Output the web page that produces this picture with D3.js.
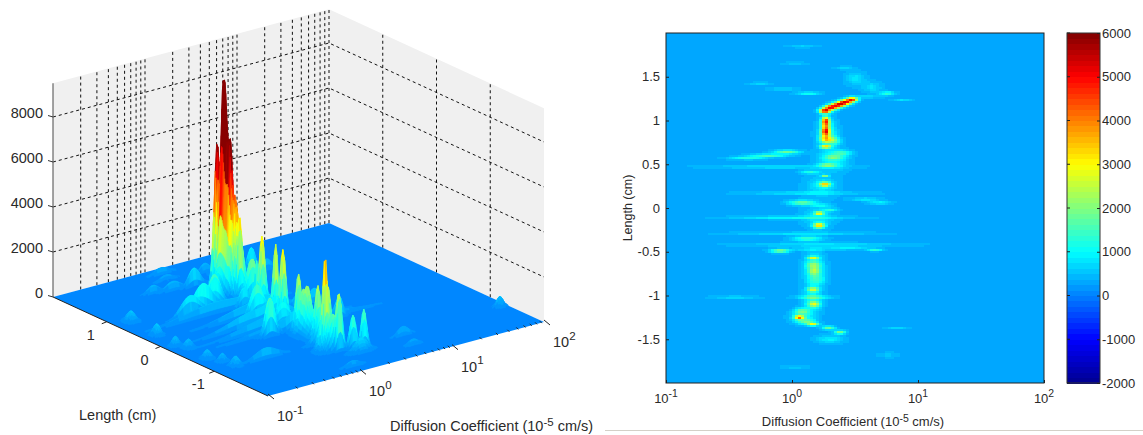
<!DOCTYPE html>
<html>
<head>
<meta charset="utf-8">
<title>Diffusion map</title>
<script src="https://cdn.jsdelivr.net/npm/d3@7"></script>
<style>
  html, body { margin: 0; padding: 0; background: #fff; }
  svg { display: block; }
  text { font-family: "Liberation Sans", Arial, sans-serif; fill: #2a2a2a; }
</style>
</head>
<body>
<div id="container"></div>
<script>
/* DATA */
const lengthTicks = [-1.5, -1, -0.5, 0, 0.5, 1, 1.5];
const wallLengthTicks = [-1, 0, 1];
const diffTicks = [0.1, 1, 10, 100];
const diffExponents = ["-1", "0", "1", "2"];
const heightTicks = [0, 2000, 4000, 6000, 8000];
const colorTicks = [-2000, -1000, 0, 1000, 2000, 3000, 4000, 5000, 6000];
const wallMinors = [0.2, 0.3, 0.4, 0.5, 0.6, 0.7, 0.8, 0.9, 1,
  2, 3, 4, 5, 6, 7, 8, 9, 10, 20, 30, 40, 50, 60, 70, 80, 90, 100];

// background level of each panel
const heatBase = 330;
const floorBase = 100;

// peaks of the distribution: length (cm), diffusion coefficient, height,
// and how far each one spreads (decades of D, cm of length)
const peakLength = [1.24, 1.21, 1.18, 1.15, 1.11, 1.0, 0.95, 0.87, 0.79, 0.77, 0.70,
  0.64, 0.60, 0.57, 0.63, 0.58, 0.49, 0.47, 0.41, 0.37, 0.27, 0.17, 0.06, 0.03, 0.06, 0.10,
  -0.06, -0.02, -0.11, -0.2, -0.29, -0.35, -0.42, -0.49, -0.47, -0.46, -0.48,
  -0.57, -0.65, -0.72, -0.82, -0.93, -1.02, -1.02, -1.1, -1.18, -1.25, -1.3, -1.33, -1.37, -1.42, -1.5,
  1.85, 1.65, 1.6, 1.42, 1.31, 1.36, 1.31, 1.27, 1.23, 1.38, 1.48, -1.37, -1.68, -1.82,
  0.85, 0.55, 0.25, -0.1, -0.7, -1.05, -1.25];
const peakDiff = [3.0, 2.65, 2.35, 2.05, 1.83, 1.85, 1.85, 1.85, 1.85, 2.15, 1.85,
  0.91, 0.65, 0.45, 2.5, 2.15, 1.9, 0.8, 1.39, 1.83, 1.83, 1.3, 1.2, 1.7, 5.0, 3.8,
  1.64, 2.0, 1.0, 1.64, 1.2, 1.32, 1.8, 0.8, 1.4, 2.8, 4.56,
  1.47, 1.47, 1.5, 1.6, 1.47, 1.5, 0.35, 1.5, 1.2, 1.14, 1.3, 1.47, 1.95, 2.4, 2.0,
  1.22, 1.06, 2.6, 0.56, 1.35, 0.85, 5.67, 3.9, 7.5, 4.3, 3.2, 6.8, 5.8, 1.06,
  1.9, 2.1, 1.7, 1.6, 1.5, 1.45, 1.2];
const peakValue = [4200, 4400, 4400, 4600, 4800, 2600, 2600, 3300, 2400, 1300, 3000,
  1500, 1300, 900, 1000, 1100, 1400, 550, 900, 1900, 2800, 600, 1500, 700, 700, 600,
  3000, 900, 700, 3000, 600, 1100, 500, 1800, 600, 600, 1000,
  2000, 900, 1100, 500, 1900, 1000, 500, 2000, 1400, 3400, 1300, 2400, 1500, 1700, 600,
  300, 250, 400, 350, 900, 400, 1100, 700, 500, 450, 500, 400, 250, 250,
  1000, 700, 500, 500, 1100, 800, 800];
const peakSpreadD = [0.03, 0.035, 0.035, 0.035, 0.03, 0.022, 0.022, 0.022, 0.03, 0.035, 0.03,
  0.07, 0.1, 0.1, 0.05, 0.05, 0.05, 0.35, 0.05, 0.02, 0.03, 0.3, 0.07, 0.05, 0.06, 0.08,
  0.025, 0.04, 0.3, 0.03, 0.35, 0.08, 0.4, 0.05, 0.12, 0.12, 0.04,
  0.03, 0.04, 0.03, 0.05, 0.03, 0.09, 0.12, 0.03, 0.04, 0.025, 0.05, 0.03, 0.035, 0.03, 0.07,
  0.08, 0.07, 0.05, 0.06, 0.06, 0.08, 0.04, 0.08, 0.05, 0.05, 0.05, 0.06, 0.05, 0.07,
  0.05, 0.08, 0.08, 0.08, 0.05, 0.05, 0.06];
const peakSpreadL = [0.018, 0.02, 0.02, 0.02, 0.02, 0.03, 0.05, 0.03, 0.03, 0.03, 0.012,
  0.015, 0.012, 0.012, 0.02, 0.02, 0.015, 0.012, 0.015, 0.008, 0.02, 0.012, 0.02, 0.012, 0.012, 0.012,
  0.012, 0.012, 0.012, 0.022, 0.01, 0.02, 0.015, 0.015, 0.01, 0.012, 0.01,
  0.012, 0.025, 0.03, 0.04, 0.018, 0.012, 0.01, 0.022, 0.025, 0.015, 0.02, 0.012, 0.015, 0.015, 0.03,
  0.012, 0.012, 0.012, 0.012, 0.012, 0.012, 0.015, 0.008, 0.008, 0.04, 0.05, 0.01, 0.02, 0.015,
  0.1, 0.08, 0.08, 0.08, 0.12, 0.1, 0.04];

// features that only show on the 3D surface: the tall spike, its body,
// the low bumps on the near edge and the small bump on the far edge
const surfaceLength = [1.0, 0.95, 0.95, 0.85, 0.32, -0.08, -0.22, -0.62, -0.8, -1.0, -1.3];
const surfaceDiff = [1.85, 1.9, 1.5, 0.15, 0.14, 0.13, 0.15, 0.14, 0.16, 0.17, 85];
const surfaceValue = [3400, 1800, 500, 450, 500, 420, 380, 380, 350, 420, 450];
const surfaceSpreadD = [0.022, 0.05, 0.05, 0.035, 0.03, 0.03, 0.03, 0.03, 0.03, 0.03, 0.03];
const surfaceSpreadL = [0.06, 0.13, 0.06, 0.05, 0.04, 0.03, 0.04, 0.04, 0.03, 0.04, 0.03];

/* CONSTANTS */
const width = 1143,
  height = 435;

// corners of the 3D box on screen
const front = [268, 396],
  toRight = [276, -74],
  toLeft = [-215, -99];

// heatmap box
const map = { left: 666, right: 1044, top: 33, bottom: 383 };
const bar = { left: 1067, right: 1100, top: 33, bottom: 383 };

/* COLORS: 64 level jet */
const jet = d3.scaleLinear()
  .domain([0, 0.125, 0.375, 0.625, 0.875, 1])
  .range(["#00008f", "#0000ff", "#00ffff", "#ffff00", "#ff0000", "#800000"]);
const jetLevels = d3.range(64).map(i => jet((i + 0.5) / 64));
const colorScale = d3.scaleQuantize().domain([-2000, 6000]).range(jetLevels);

/* SCALES */
const xMap = d3.scaleLog().domain([0.1, 100]).range([map.left, map.right]);
const yMap = d3.scaleLinear().domain([-2, 2]).range([map.bottom, map.top]);
const yBar = d3.scaleLinear().domain([-2000, 6000]).range([bar.bottom, bar.top]);

const uScale = d3.scaleLog().domain([0.1, 100]).range([0, 1]);
const vScale = d3.scaleLinear().domain([-2, 2]).range([0, 1]);
const zScale = d3.scaleLinear().domain([0, 9500]).range([0, 213.75]);

function project(d, l, z) {
  const u = uScale(d), v = vScale(l);
  return [
    front[0] + u * toRight[0] + v * toLeft[0],
    front[1] + u * toRight[1] + v * toLeft[1] - zScale(z)
  ];
}

// height at a point, adding up the read peaks
function addPeaks(d, l, ls, ds, vs, sd, sl) {
  const logD = Math.log10(d);
  let total = 0;
  for (let i = 0; i < vs.length; i++) {
    const a = (logD - Math.log10(ds[i])) / sd[i],
      b = (l - ls[i]) / sl[i];
    const r = a * a + b * b;
    if (r < 16) total += vs[i] * Math.exp(-r / 2);
  }
  return total;
}

const field = (d, l) => addPeaks(d, l, peakLength, peakDiff, peakValue, peakSpreadD, peakSpreadL);
const surfaceField = (d, l) => field(d, l) +
  addPeaks(d, l, surfaceLength, surfaceDiff, surfaceValue, surfaceSpreadD, surfaceSpreadL);

const svg = d3.select("#container")
  .append("svg")
  .attr("width", width)
  .attr("height", height);

const line = d3.line();

function addPowerLabel(g, x, y, anchor, size, exponent) {
  const t = g.append("text")
    .attr("x", x)
    .attr("y", y)
    .attr("text-anchor", anchor)
    .style("font-size", size + "px");
  t.append("tspan").text("10");
  t.append("tspan")
    .attr("dy", -size * 0.5)
    .style("font-size", (size * 0.8) + "px")
    .text(exponent);
}

/* 3D PANEL */
const left3d = svg.append("g").attr("class", "surface-panel");

// walls
left3d.append("path")
  .attr("d", line([project(0.1, 2, 0), project(100, 2, 0), project(100, 2, 9500), project(0.1, 2, 9500)]) + "Z")
  .attr("fill", "#f0f0f0");
left3d.append("path")
  .attr("d", line([project(100, 2, 0), project(100, -2, 0), project(100, -2, 9500), project(100, 2, 9500)]) + "Z")
  .attr("fill", "#f0f0f0");

// wall grid
const gridStyle = sel => sel
  .attr("fill", "none")
  .attr("stroke", "#111")
  .attr("stroke-width", 1)
  .attr("stroke-dasharray", "3,3");

left3d.selectAll("path.grid-diff")
  .data(wallMinors)
  .join("path")
  .attr("class", "grid-diff")
  .attr("d", d => line([project(d, 2, 0), project(d, 2, 9500)]))
  .call(gridStyle);

left3d.selectAll("path.grid-length")
  .data(wallLengthTicks)
  .join("path")
  .attr("class", "grid-length")
  .attr("d", d => line([project(100, d, 0), project(100, d, 9500)]))
  .call(gridStyle);

left3d.selectAll("path.grid-height")
  .data(heightTicks.slice(1))
  .join("path")
  .attr("class", "grid-height")
  .attr("d", d => line([project(0.1, 2, d), project(100, 2, d), project(100, -2, d)]))
  .call(gridStyle);

// floor
left3d.append("path")
  .attr("d", line([project(0.1, -2, 0), project(100, -2, 0), project(100, 2, 0), project(0.1, 2, 0)]) + "Z")
  .attr("fill", colorScale(floorBase));

// surface, painted from the far corner to the near one
const surfaceDiffs = d3.range(0, 201).map(i => Math.pow(10, -1 + i * 0.015));
const surfaceLengths = d3.range(0, 334).map(i => 2 - i * 0.012);
const surfaceHeights = surfaceLengths.map(l => surfaceDiffs.map(d => surfaceField(d, l)));

const surfaceG = left3d.append("g").attr("class", "surface");
for (let j = 0; j < surfaceLengths.length - 1; j++) {
  for (let i = surfaceDiffs.length - 2; i >= 0; i--) {
    const z00 = surfaceHeights[j][i], z10 = surfaceHeights[j][i + 1],
      z01 = surfaceHeights[j + 1][i], z11 = surfaceHeights[j + 1][i + 1];
    const top = Math.max(z00, z10, z01, z11);
    if (top < 40) continue;
    const c = colorScale(floorBase + (z00 + z10 + z01 + z11) / 4);
    surfaceG.append("path")
      .attr("d", line([
        project(surfaceDiffs[i], surfaceLengths[j], z00),
        project(surfaceDiffs[i + 1], surfaceLengths[j], z10),
        project(surfaceDiffs[i + 1], surfaceLengths[j + 1], z11),
        project(surfaceDiffs[i], surfaceLengths[j + 1], z01)
      ]) + "Z")
      .attr("fill", c)
      .attr("stroke", c)
      .attr("stroke-width", 0.5);
  }
}

// box edges and ticks
left3d.append("path")
  .attr("d", line([project(0.1, 2, 9500), project(0.1, 2, 0)]))
  .attr("stroke", "#666")
  .attr("stroke-width", 1.2)
  .attr("fill", "none");
left3d.append("path")
  .attr("d", line([project(0.1, 2, 0), project(0.1, -2, 0)]))
  .attr("stroke", "#222")
  .attr("fill", "none");

// height ticks and labels
const heightAxis = left3d.append("g").attr("class", "z-axis");
heightTicks.forEach(t => {
  const p = project(0.1, 2, t);
  heightAxis.append("path")
    .attr("d", line([[p[0] - 5, p[1] - 1.5], p]))
    .attr("stroke", "#333")
    .attr("fill", "none");
  heightAxis.append("text")
    .attr("x", p[0] - 10)
    .attr("y", p[1] + 1)
    .attr("text-anchor", "end")
    .style("font-size", "14.5px")
    .text(t);
});

// length ticks and labels
const lengthAxis = left3d.append("g").attr("class", "y-axis");
wallLengthTicks.forEach(t => {
  const p = project(0.1, t, 0);
  lengthAxis.append("path")
    .attr("d", line([[p[0] - 5, p[1] + 2], p]))
    .attr("stroke", "#222")
    .attr("fill", "none");
  lengthAxis.append("text")
    .attr("x", p[0] - 16)
    .attr("y", p[1] + 18)
    .attr("text-anchor", "middle")
    .style("font-size", "14.5px")
    .text(t);
});

// diffusion ticks and labels
const diffAxis = left3d.append("g").attr("class", "x-axis");
xMap.copy().ticks(30).forEach(t => {
  const p = project(t, -2, 0);
  const major = diffTicks.includes(t);
  diffAxis.append("path")
    .attr("d", line([[p[0], p[1] - 2], [p[0] + (major ? 6 : 2), p[1] + (major ? 3 : 0)]]))
    .attr("stroke", "#222")
    .attr("fill", "none");
});
diffTicks.forEach((t, i) => {
  const p = project(t, -2, 0);
  addPowerLabel(diffAxis, p[0] + 9, p[1] + 25, "start", 14.5, diffExponents[i]);
});

left3d.append("text")
  .attr("x", 79)
  .attr("y", 420)
  .style("font-size", "14.5px")
  .text("Length (cm)");

const surfaceTitle = left3d.append("text")
  .attr("x", 390)
  .attr("y", 431)
  .style("font-size", "14.5px");
surfaceTitle.append("tspan").text("Diffusion Coefficient (10");
surfaceTitle.append("tspan").attr("dy", -5).style("font-size", "11.5px").text("-5");
surfaceTitle.append("tspan").attr("dy", 5).text(" cm/s)");

/* HEATMAP PANEL */
const right2d = svg.append("g").attr("class", "map-panel");

right2d.append("rect")
  .attr("x", map.left)
  .attr("y", map.top)
  .attr("width", map.right - map.left)
  .attr("height", map.bottom - map.top)
  .attr("fill", colorScale(heatBase));

const mapColEdges = d3.range(0, 127).map(i => Math.pow(10, -1 + i * 3 / 126));
const mapRowEdges = d3.range(0, 176).map(i => 2 - i * 4 / 175);
const mapCells = [];
mapRowEdges.slice(0, -1).forEach((l, r) => {
  mapColEdges.slice(0, -1).forEach((d, c) => {
    const midL = (l + mapRowEdges[r + 1]) / 2,
      midD = Math.sqrt(d * mapColEdges[c + 1]);
    const color = colorScale(heatBase + field(midD, midL));
    if (color !== colorScale(heatBase)) {
      mapCells.push({ d0: d, d1: mapColEdges[c + 1], l0: l, l1: mapRowEdges[r + 1], color });
    }
  });
});

right2d.selectAll("rect.cell")
  .data(mapCells)
  .join("rect")
  .attr("class", "cell")
  .attr("x", d => xMap(d.d0))
  .attr("y", d => yMap(d.l0))
  .attr("width", d => xMap(d.d1) - xMap(d.d0))
  .attr("height", d => yMap(d.l1) - yMap(d.l0))
  .attr("fill", d => d.color)
  .attr("shape-rendering", "crispEdges");

right2d.append("rect")
  .attr("x", map.left)
  .attr("y", map.top)
  .attr("width", map.right - map.left)
  .attr("height", map.bottom - map.top)
  .attr("fill", "none")
  .attr("stroke", "#222");

// y axis
right2d.append("g")
  .attr("class", "y-axis")
  .attr("transform", `translate(${map.left}, 0)`)
  .call(d3.axisLeft(yMap).tickValues(lengthTicks).tickSize(-3).tickPadding(6).tickFormat(d => String(d)))
  .call(g => g.select(".domain").remove())
  .call(g => g.selectAll("line").attr("stroke", "#222"))
  .call(g => g.selectAll("text").style("font-size", "13px").attr("fill", "#2a2a2a"));

// x axis
right2d.append("g")
  .attr("class", "x-axis")
  .attr("transform", `translate(0, ${map.bottom})`)
  .call(d3.axisBottom(xMap).tickValues(diffTicks).tickSize(-3).tickFormat(""))
  .call(g => g.select(".domain").remove())
  .call(g => g.selectAll("line").attr("stroke", "#222"));

diffTicks.forEach((t, i) => {
  addPowerLabel(right2d, xMap(t), 403, "middle", 13, diffExponents[i]);
});

right2d.append("text")
  .attr("transform", `translate(632, ${yMap(0)}) rotate(-90)`)
  .attr("text-anchor", "middle")
  .style("font-size", "12.5px")
  .text("Length (cm)");

const mapTitle = right2d.append("text")
  .attr("x", 853)
  .attr("y", 426)
  .attr("text-anchor", "middle")
  .style("font-size", "13px");
mapTitle.append("tspan").text("Diffusion Coefficient (10");
mapTitle.append("tspan").attr("dy", -4).style("font-size", "10.5px").text("-5");
mapTitle.append("tspan").attr("dy", 4).text(" cm/s)");

/* COLOR BAR */
const colorbar = svg.append("g").attr("class", "colorbar");
colorbar.selectAll("rect.level")
  .data(jetLevels)
  .join("rect")
  .attr("class", "level")
  .attr("x", bar.left)
  .attr("y", (d, i) => yBar(-2000 + (i + 1) * 125))
  .attr("width", bar.right - bar.left)
  .attr("height", yBar(0) - yBar(125) + 0.5)
  .attr("fill", d => d)
  .attr("shape-rendering", "crispEdges");

colorbar.append("rect")
  .attr("x", bar.left)
  .attr("y", bar.top)
  .attr("width", bar.right - bar.left)
  .attr("height", bar.bottom - bar.top)
  .attr("fill", "none")
  .attr("stroke", "#333");

colorbar.append("g")
  .attr("transform", `translate(${bar.right}, 0)`)
  .call(d3.axisRight(yBar).tickValues(colorTicks).tickSize(-3).tickPadding(2).tickFormat(d => String(d)))
  .call(g => g.select(".domain").remove())
  .call(g => g.selectAll("line").attr("stroke", "#222"))
  .call(g => g.selectAll("text").style("font-size", "13px").attr("fill", "#2a2a2a"));

colorbar.selectAll("line.left-tick")
  .data(colorTicks)
  .join("line")
  .attr("class", "left-tick")
  .attr("x1", bar.left)
  .attr("x2", bar.left + 3)
  .attr("y1", d => yBar(d))
  .attr("y2", d => yBar(d))
  .attr("stroke", "#222");

// thin rule under the right panel
svg.append("line")
  .attr("x1", 605)
  .attr("x2", width)
  .attr("y1", 430.5)
  .attr("y2", 430.5)
  .attr("stroke", "#d4d0c8");
</script>
</body>
</html>
